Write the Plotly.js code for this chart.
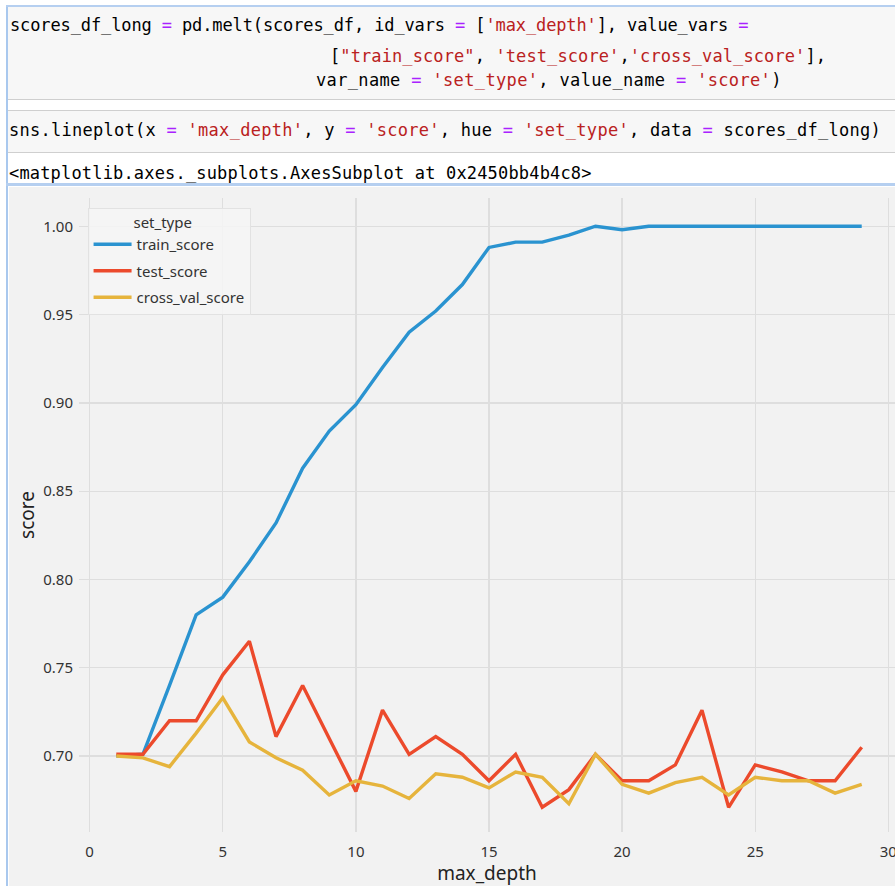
<!DOCTYPE html>
<html>
<head>
<meta charset="utf-8">
<script src="https://cdn.plot.ly/plotly-3.0.1.min.js"></script>
<style>
  html, body { margin:0; padding:0; background:#ffffff; width:895px; height:886px; overflow:hidden; }
  .abs { position:absolute; }
  .code { position:absolute; font-family:"DejaVu Sans Mono","Liberation Mono",monospace; font-size:17px; line-height:20px; white-space:pre; color:#000; }
  .s { color:#ba2121; }
  .o { color:#aa22ff; }
</style>
</head>
<body>
<!-- notebook frame -->
<div class="abs" style="left:6px;top:5px;width:2px;height:881px;background:#a9c8ee;"></div>
<div class="abs" style="left:6px;top:5px;width:889px;height:2px;background:#b5cff0;"></div>
<!-- cell 1 -->
<div class="abs" style="left:8px;top:7px;width:887px;height:92px;background:#f7f7f7;border-bottom:1px solid #cfcfcf;"></div>
<!-- cell 2 -->
<div class="abs" style="left:8px;top:110px;width:887px;height:41px;background:#f7f7f7;border-top:1px solid #cfcfcf;border-bottom:1px solid #cfcfcf;"></div>
<!-- output separator -->
<div class="abs" style="left:6px;top:183px;width:889px;height:3px;background:#b5cff0;"></div>

<div class="code" style="left:10px;top:15px;letter-spacing:-0.12px;">scores_df_long <span class="o">=</span> pd.melt(scores_df, id_vars <span class="o">=</span> [<span class="s">'max_depth'</span>], value_vars <span class="o">=</span></div>
<div class="code" style="left:330px;top:46px;letter-spacing:0.1px;">[<span class="s">"train_score"</span>, <span class="s">'test_score'</span>,<span class="s">'cross_val_score'</span>],</div>
<div class="code" style="left:316px;top:70px;letter-spacing:0.35px;">var_name <span class="o">=</span> <span class="s">'set_type'</span>, value_name <span class="o">=</span> <span class="s">'score'</span>)</div>
<div class="code" style="left:9px;top:120px;letter-spacing:0.27px;">sns.lineplot(x <span class="o">=</span> <span class="s">'max_depth'</span>, y <span class="o">=</span> <span class="s">'score'</span>, hue <span class="o">=</span> <span class="s">'set_type'</span>, data <span class="o">=</span> scores_df_long)</div>
<div class="code" style="left:9px;top:163px;letter-spacing:0.17px;">&lt;matplotlib.axes._subplots.AxesSubplot at 0x2450bb4b4c8&gt;</div>

<div id="chart" class="abs" style="left:9px;top:187px;width:886px;height:699px;"></div>

<script>
const maxDepth = [1,2,3,4,5,6,7,8,9,10,11,12,13,14,15,16,17,18,19,20,21,22,23,24,25,26,27,28,29];
const trainScore = [0.700,0.701,0.740,0.780,0.790,0.810,0.832,0.863,0.884,0.899,0.920,0.940,0.952,0.967,0.988,0.991,0.991,0.995,1.000,0.998,1.000,1.000,1.000,1.000,1.000,1.000,1.000,1.000,1.000];
const testScore = [0.701,0.701,0.720,0.720,0.746,0.765,0.711,0.740,0.710,0.680,0.726,0.701,0.711,0.701,0.686,0.701,0.671,0.681,0.701,0.686,0.686,0.695,0.726,0.671,0.695,0.691,0.686,0.686,0.705];
const crossValScore = [0.700,0.699,0.694,0.713,0.733,0.708,0.699,0.692,0.678,0.686,0.683,0.676,0.690,0.688,0.682,0.691,0.688,0.673,0.701,0.684,0.679,0.685,0.688,0.678,0.688,0.686,0.686,0.679,0.684];
const seriesNames = ['train_score','test_score','cross_val_score'];
const seriesColors = ['#2a93d0','#ec4a2c','#e6b43c'];
const xTicks = [0,5,10,15,20,25,30];
const yTicks = [0.70,0.75,0.80,0.85,0.90,0.95,1.00];
const yTickText = ['0.70','0.75','0.80','0.85','0.90','0.95','1.00'];

const ys = [trainScore, testScore, crossValScore];
const traces = ys.map((y, i) => ({
  x: maxDepth, y: y, type: 'scatter', mode: 'lines', name: seriesNames[i],
  legendgroup: 'g' + i,
  line: {color: seriesColors[i], width: 3.4}
}));

const fontFam = '"Noto Sans", "Open Sans", sans-serif';
const layout = {
  width: 886, height: 699,
  margin: {l: 70.4, r: 0, t: 11, b: 54},
  paper_bgcolor: '#f2f2f2', plot_bgcolor: '#f2f2f2',
  font: {family: fontFam, color: '#333', size: 15},
  showlegend: true,
  legend: {
    x: 0.0105, y: 0.985, xanchor: 'left', yanchor: 'top',
    bgcolor: 'rgba(246,246,246,0.85)', bordercolor: '#e2e2e2', borderwidth: 1,
    font: {family: fontFam, size: 15, color: '#333'},
    title: {text: '\u00a0\u00a0\u00a0\u00a0\u00a0\u00a0\u00a0\u00a0\u00a0\u00a0\u00a0set_type', font: {family: fontFam, size: 15, color: '#333'}},
    tracegroupgap: 4, itemwidth: 38
  },
  xaxis: {
    range: [-0.4, 30.25], tickmode: 'array', tickvals: xTicks,
    showgrid: true, gridcolor: '#dedede', gridwidth: 1.3, zeroline: false,
    showline: false, ticks: '', ticklabelstandoff: 9, ticklabeloverflow: 'allow',
    tickfont: {family: fontFam, size: 15, color: '#333'},
    title: {text: 'max_depth', font: {family: fontFam, size: 19, color: '#222'}, standoff: 6}
  },
  yaxis: {
    range: [0.657, 1.016], tickmode: 'array', tickvals: yTicks, ticktext: yTickText,
    showgrid: true, gridcolor: '#dedede', gridwidth: 1.3, zeroline: false,
    showline: false, ticks: '', ticklabelstandoff: 5,
    tickfont: {family: fontFam, size: 15, color: '#333'},
    title: {text: 'score', font: {family: fontFam, size: 19, color: '#222'}, standoff: 3}
  }
};
Plotly.newPlot('chart', traces, layout, {displayModeBar: false, staticPlot: true});
</script>
</body>
</html>
